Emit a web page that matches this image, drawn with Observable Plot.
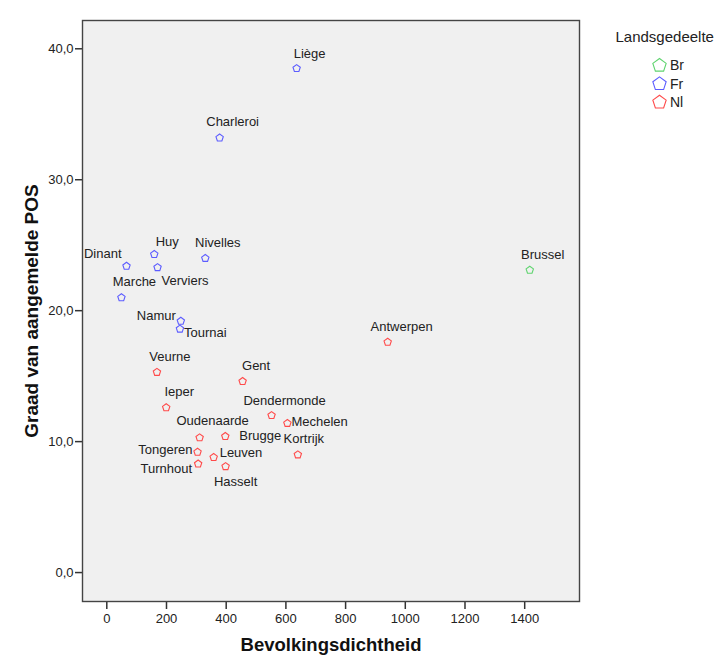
<!DOCTYPE html>
<html>
<head>
<meta charset="utf-8">
<script src="https://cdn.jsdelivr.net/npm/d3@7"></script>
<script src="https://cdn.jsdelivr.net/npm/@observablehq/plot@0.6"></script>
<style>
  html, body { margin: 0; padding: 0; background: #fff; }
  #chart { width: 720px; height: 655px; }
</style>
</head>
<body>
<div id="chart"></div>
<script>
// ---- data ----
const cities  = ["Liège","Charleroi","Huy","Nivelles","Dinant","Verviers","Marche","Namur","Tournai",
                 "Brussel","Antwerpen","Veurne","Gent","Ieper","Dendermonde","Mechelen","Oudenaarde",
                 "Brugge","Kortrijk","Tongeren","Leuven","Turnhout","Hasselt"];
const density = [636, 378, 159, 330, 66, 170, 49, 248, 245,
                 1417, 941, 168, 455, 199, 552, 605, 311,
                 397, 640, 304, 358, 306, 398];
const pos     = [38.5, 33.2, 24.3, 24.0, 23.4, 23.3, 21.0, 19.2, 18.6,
                 23.1, 17.6, 15.3, 14.6, 12.6, 12.0, 11.4, 10.3,
                 10.4, 9.0, 9.2, 8.8, 8.3, 8.1];
const region  = ["Fr","Fr","Fr","Fr","Fr","Fr","Fr","Fr","Fr",
                 "Br","Nl","Nl","Nl","Nl","Nl","Nl","Nl",
                 "Nl","Nl","Nl","Nl","Nl","Nl"];
const regions = ["Br","Fr","Nl"];
const xTicks  = [0, 200, 400, 600, 800, 1000, 1200, 1400];
const yTicks  = [0, 10, 20, 30, 40];

// ---- styling / layout ----
const colors = ["#5fd46f", "#5c5cff", "#ff4a4a"];
const pentagon = {
  draw(ctx, size) {
    const R = Math.sqrt(size / Math.PI);
    for (let k = 0; k < 5; k++) {
      const a = -Math.PI / 2 + k * 2 * Math.PI / 5;
      const px = R * Math.cos(a), py = R * Math.sin(a);
      if (k === 0) ctx.moveTo(px, py); else ctx.lineTo(px, py);
    }
    ctx.closePath();
  }
};
// label placement relative to the point: [dx, dy, textAnchor]
const place = {
  "Liège": [13, -15, "middle"], "Charleroi": [13, -15.5, "middle"], "Huy": [13, -13, "middle"],
  "Nivelles": [12.5, -15, "middle"], "Dinant": [-5, -12, "end"], "Verviers": [4, 13, "start"],
  "Marche": [13, -15.5, "middle"], "Namur": [-5, -5, "end"], "Tournai": [4, 4, "start"],
  "Brussel": [13, -15, "middle"], "Antwerpen": [14, -15.5, "middle"], "Veurne": [13, -15, "middle"],
  "Gent": [13.5, -16, "middle"], "Ieper": [13, -15.5, "middle"], "Dendermonde": [13, -15, "middle"],
  "Mechelen": [4, -1, "start"], "Oudenaarde": [13, -17, "middle"], "Brugge": [14, -1, "start"],
  "Kortrijk": [6, -16, "middle"], "Tongeren": [-5, -2, "end"], "Leuven": [6, -5, "start"],
  "Turnhout": [-6, 4.5, "end"], "Hasselt": [10, 15, "middle"]
};

const idx = cities.map((_, i) => i);
const fmtY = d => d.toFixed(1).replace(".", ",");
const fmtX = d => String(d);

const labelMarks = idx.map(i => {
  const [dx, dy, anchor] = place[cities[i]];
  return Plot.text([i], {
    x: j => density[j], y: j => pos[j], text: j => cities[j],
    dx, dy, textAnchor: anchor, lineAnchor: "middle", fontSize: 13, fill: "#222"
  });
});

const legendMarks = regions.flatMap((r, k) => [
  Plot.dot([r], {frameAnchor: "top-right", dx: 80, dy: 45 + k * 18.4, stroke: d => d,
                 symbol: pentagon, r: 7, strokeWidth: 1.1}),
  Plot.text([r], {frameAnchor: "top-right", dx: 90.5, dy: 45.5 + k * 18.4, text: d => d,
                  textAnchor: "start", lineAnchor: "middle", fontSize: 14, fill: "#222"})
]);

const chart = Plot.plot({
  width: 720,
  height: 655,
  marginLeft: 82,
  marginRight: 141,
  marginTop: 20,
  marginBottom: 54,
  style: {fontFamily: "'Liberation Sans', Arial, sans-serif", fontSize: "13px", color: "#222", background: "#fff"},
  x: {domain: [-81.4, 1583.6]},
  y: {domain: [-2.21, 42.16]},
  color: {domain: regions, range: colors},
  marks: [
    Plot.frame({fill: "#f0f0f0"}),
    Plot.axisX({ticks: xTicks, tickFormat: fmtX, tickSize: 8, tickPadding: 4, label: null, fontSize: 13, stroke: "#333", strokeWidth: 1.5}),
    Plot.axisY({ticks: yTicks, tickFormat: fmtY, tickSize: 7, tickPadding: 2, label: null, fontSize: 13, stroke: "#333", strokeWidth: 1.5}),
    Plot.dot(idx, {x: i => density[i], y: i => pos[i], stroke: i => region[i],
                   symbol: pentagon, r: 3.85, strokeWidth: 1.1}),
    ...labelMarks,
    Plot.frame({stroke: "#444", strokeWidth: 1.4}),
    Plot.text(["Bevolkingsdichtheid"], {frameAnchor: "bottom", dy: 44, textAnchor: "middle", lineAnchor: "middle",
                                        fontWeight: "bold", fontSize: 18.5, fill: "#111"}),
    Plot.text(["Graad van aangemelde POS"], {frameAnchor: "left", dx: -50.5, rotate: -90, textAnchor: "middle",
                                             lineAnchor: "middle", fontWeight: "bold", fontSize: 19, fill: "#111"}),
    Plot.text(["Landsgedeelte"], {frameAnchor: "top-right", dx: 36, dy: 17, textAnchor: "start",
                                  lineAnchor: "middle", fontSize: 15, fill: "#222"}),
    ...legendMarks
  ]
});
document.getElementById("chart").appendChild(chart);
</script>
</body>
</html>
